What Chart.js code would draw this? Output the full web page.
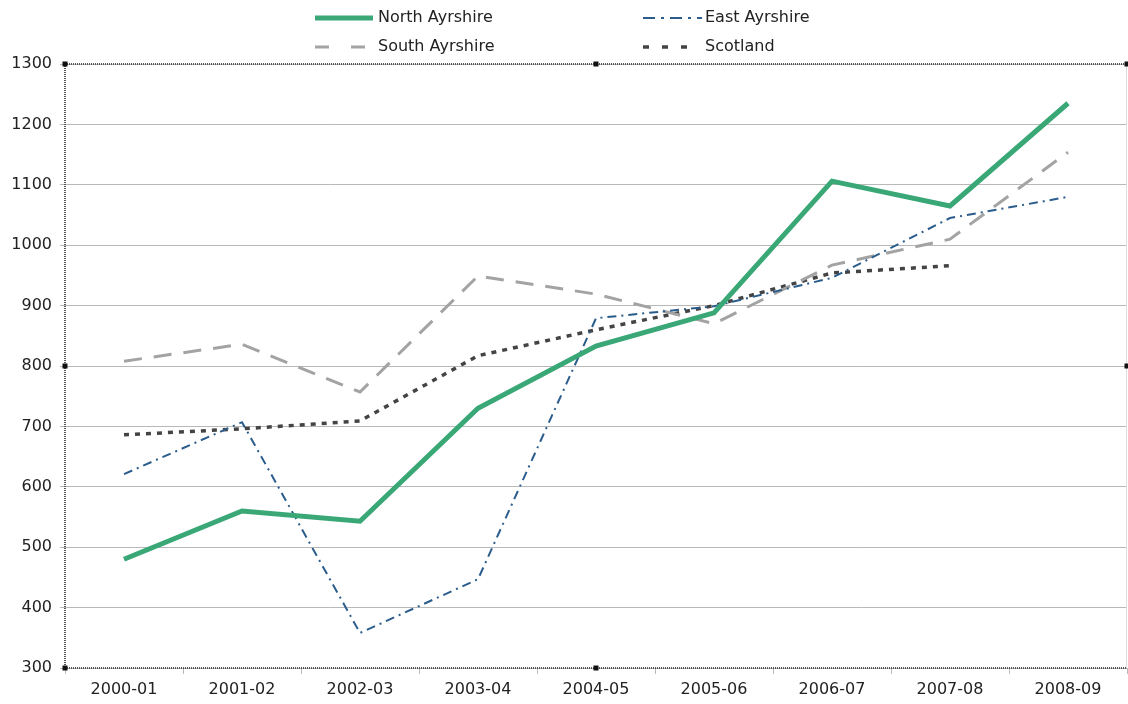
<!DOCTYPE html>
<html>
<head>
<meta charset="utf-8">
<script src="https://cdn.jsdelivr.net/npm/chart.js@4.4.1/dist/chart.umd.min.js"></script>
<style>
html,body{margin:0;padding:0;background:#fff;}
#wrap{width:1128px;height:704px;}
</style>
</head>
<body>
<div id="wrap"><canvas id="c" width="1128" height="704"></canvas></div>
<script>
const categories = ['2000-01','2001-02','2002-03','2003-04','2004-05','2005-06','2006-07','2007-08','2008-09'];
const northAyrshire = [480, 560, 543, 730, 833, 888, 1106, 1065, 1235];
const eastAyrshire  = [621, 707, 358, 447, 879, 899, 946, 1045, 1080];
const southAyrshire = [808, 836, 757, 949, 919, 870, 967, 1010, 1154];
const scotland      = [686, 696, 709, 817, 860, 900, 954, 966, null];
const yTicks = [300,400,500,600,700,800,900,1000,1100,1200,1300];

const FONT = "'DejaVu Sans', sans-serif";

const legendPlugin = {
  id: 'customLegend',
  afterDraw(chart) {
    const ctx = chart.ctx;
    const slots = [
      {x1:315, x2:373, tx:378, y:18},
      {x1:643, x2:702, tx:705, y:18},
      {x1:315, x2:373, tx:378, y:47},
      {x1:643, x2:692, tx:705, y:47}
    ];
    ctx.save();
    chart.data.datasets.forEach((ds, i) => {
      const s = slots[i];
      ctx.beginPath();
      ctx.setLineDash(ds.legendDash || ds.borderDash || []);
      ctx.lineWidth = ds.borderWidth;
      ctx.strokeStyle = ds.borderColor;
      ctx.moveTo(s.x1, s.y);
      ctx.lineTo(s.x2, s.y);
      ctx.stroke();
      ctx.setLineDash([]);
      ctx.fillStyle = '#222';
      ctx.font = '16px ' + FONT;
      ctx.textBaseline = 'middle';
      ctx.textAlign = 'left';
      ctx.fillText(ds.label, s.tx, s.y);
    });
    ctx.restore();
  }
};

const framePlugin = {
  id: 'frame',
  afterDatasetsDraw(chart) {
    const {left, right, top, bottom} = chart.chartArea;
    const ctx = chart.ctx;
    ctx.save();
    ctx.strokeStyle = '#ddd';
    ctx.lineWidth = 1;
    ctx.beginPath();
    ctx.moveTo(right - 0.5, top);
    ctx.lineTo(right - 0.5, bottom);
    ctx.stroke();
    ctx.strokeStyle = '#555';
    ctx.lineWidth = 2;
    ctx.setLineDash([1,1]);
    ctx.beginPath();
    ctx.moveTo(left, top);
    ctx.lineTo(right, top);
    ctx.moveTo(left, top);
    ctx.lineTo(left, bottom);
    ctx.moveTo(left, bottom);
    ctx.lineTo(right, bottom);
    ctx.stroke();
    ctx.setLineDash([]);
    ctx.fillStyle = '#111';
    const mx = (left + right) / 2, my = (top + bottom) / 2;
    [[left,top],[mx,top],[right,top],[left,my],[right,my],[left,bottom],[mx,bottom]].forEach(p => {
      ctx.fillRect(p[0]-2.5, p[1]-2.5, 5, 5);
    });
    ctx.restore();
  }
};

new Chart(document.getElementById('c'), {
  type: 'line',
  data: {
    labels: categories,
    datasets: [
      {label:'North Ayrshire', data:northAyrshire, borderColor:'#3aa876', borderWidth:5, pointRadius:0, tension:0, fill:false},
      {label:'East Ayrshire', data:eastAyrshire, borderColor:'#2b5d8c', borderWidth:2, borderDash:[9,5,2,5], legendDash:[12,6,3,6], pointRadius:0, tension:0, fill:false},
      {label:'South Ayrshire', data:southAyrshire, borderColor:'#a3a3a3', borderWidth:3, borderDash:[18,12], legendDash:[14,22], pointRadius:0, tension:0, fill:false},
      {label:'Scotland', data:scotland, borderColor:'#444', borderWidth:3.5, borderDash:[5,6], legendDash:[6,13], pointRadius:0, tension:0, fill:false, spanGaps:false}
    ]
  },
  options: {
    responsive: false,
    animation: false,
    events: [],
    layout: {padding: {top: 64, right: 1, left: 0, bottom: 0}},
    plugins: {legend: {display: false}, tooltip: {enabled: false}, title: {display: false}},
    scales: {
      x: {
        offset: true,
        grid: {display: true, drawOnChartArea: false, drawTicks: true, tickLength: 6, color: '#bbb', offset: true},
        border: {display: false},
        ticks: {color: '#222', font: {family: FONT, size: 16}, padding: 6, maxRotation: 0, autoSkip: false},
        afterFit(scale) { scale.height = 36; }
      },
      y: {
        min: 300, max: 1300,
        afterBuildTicks(scale) { scale.ticks = yTicks.map(v => ({value: v})); },
        grid: {color: '#b8b8b8', lineWidth: 1, drawTicks: true, tickLength: 5},
        border: {display: false},
        ticks: {color: '#222', font: {family: FONT, size: 16}, padding: 8, callback: v => String(v)},
        afterFit(scale) { scale.width = 65; }
      }
    }
  },
  plugins: [legendPlugin, framePlugin]
});
</script>
</body>
</html>
